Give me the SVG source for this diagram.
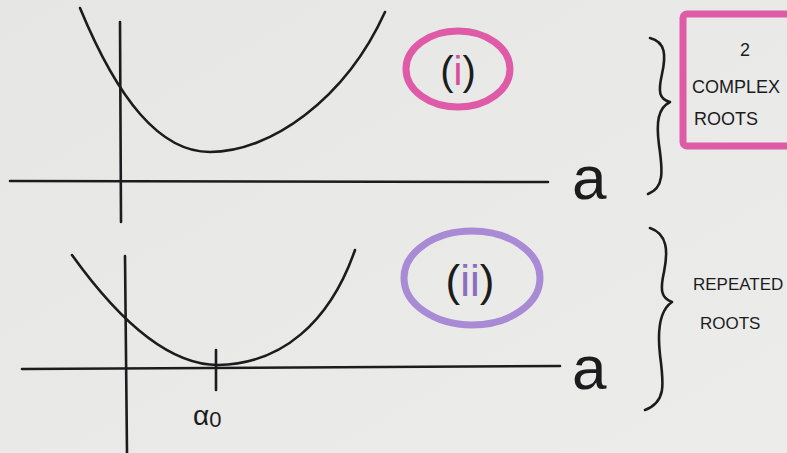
<svg xmlns="http://www.w3.org/2000/svg" width="787" height="453" viewBox="0 0 787 453">
  <defs>
    <style>
      .ink { fill: none; stroke: #1c1c1e; stroke-width: 2.6; stroke-linecap: round; stroke-linejoin: round; }
      .txt { font-family: "Liberation Sans", Arial, sans-serif; fill: #1c1c1e; }
      .pink { stroke: #df5ba8; }
      .purple { stroke: #a98ad4; }
    </style>
    <linearGradient id="paper" x1="0" y1="0" x2="1" y2="1">
      <stop offset="0" stop-color="#e6e6e4"/>
      <stop offset="1" stop-color="#ececea"/>
    </linearGradient>
  </defs>
  <rect x="0" y="0" width="787" height="453" fill="url(#paper)"/>

  <g id="connectors">
    <!-- top graph -->
    <path class="ink" d="M120,22 L121,222"/>
    <path class="ink" d="M10,181 L548,182"/>
    <path class="ink" d="M80,8 C118,100 160,152 210,152 C270,152 345,100 385,12"/>
    <!-- bottom graph -->
    <path class="ink" d="M125,256 L127,453"/>
    <path class="ink" d="M22,369 L560,366"/>
    <path class="ink" d="M72,255 C115,315 165,365 218,365 C282,364 330,322 355,250"/>
    <path class="ink" d="M216,350 L216,390"/>
    <!-- braces -->
    <path class="ink" d="M650,38 C666,42 666,56 662,74 C658,92 659,99 670,102 C658,108 656,122 659,145 C663,172 664,188 648,194"/>
    <path class="ink" d="M650,228 C668,234 668,252 664,272 C660,290 661,298 672,302 C660,310 657,328 660,355 C664,385 666,402 645,410"/>
  </g>

  <g id="label-a-top">
    <text class="txt" x="572" y="199" font-size="62">a</text>
  </g>
  <g id="label-a-bottom">
    <text class="txt" x="572" y="389" font-size="62">a</text>
  </g>
  <g id="label-alpha0">
    <text class="txt" x="193" y="425" font-size="28">α<tspan font-size="22" dy="2">0</tspan></text>
  </g>

  <g id="node-i">
    <ellipse class="pink" cx="458" cy="69" rx="52" ry="38" fill="none" stroke-width="7"/>
    <text class="txt" x="458" y="85" font-size="40" text-anchor="middle">(<tspan fill="#d64f9e">i</tspan>)</text>
  </g>

  <g id="node-ii">
    <ellipse class="purple" cx="472" cy="278" rx="68" ry="47" fill="none" stroke-width="7"/>
    <text class="txt" x="470" y="296" font-size="44" text-anchor="middle">(<tspan fill="#8e6cc0">ii</tspan>)</text>
  </g>

  <g id="node-complex">
    <rect class="pink" x="683" y="14" width="130" height="132" rx="4" fill="none" stroke-width="7"/>
    <text class="txt" x="745" y="56" font-size="18" text-anchor="middle">2</text>
    <text class="txt" x="692" y="93" font-size="18">COMPLEX</text>
    <text class="txt" x="694" y="125" font-size="18">ROOTS</text>
  </g>

  <g id="node-repeated">
    <text class="txt" x="693" y="290" font-size="17">REPEATED</text>
    <text class="txt" x="700" y="329" font-size="17">ROOTS</text>
  </g>
</svg>
